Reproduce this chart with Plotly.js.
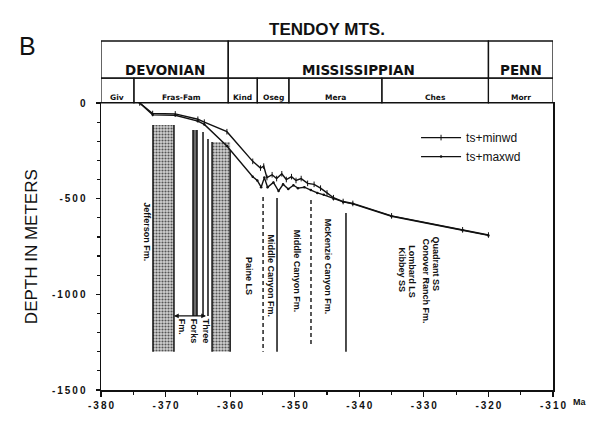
<!DOCTYPE html>
<html><head><meta charset="utf-8">
<script src="https://cdn.plot.ly/plotly-3.0.1.min.js"></script>
<style>body{margin:0;background:#fff}#c{width:595px;height:421px}</style>
</head><body><div id="c"></div>
<script>
// Subsidence curves (age in Ma, depth in m)
const ageMin   = [-374,-372,-368.5,-365,-364,-360.5,-356.5,-355.3,-354.8,-354.3,-353.5,-352.8,-352,-351.3,-350.5,-349.8,-349,-348,-347,-346,-345,-344,-342.5,-341,-335,-324,-320];
const depthMin = [0,-55,-57,-85,-100,-150,-305,-340,-330,-390,-375,-395,-370,-400,-385,-405,-395,-420,-425,-445,-470,-495,-515,-525,-590,-663,-690];
const ageMax   = [-374,-372,-368.5,-365,-364,-360.5,-356.5,-355.8,-355.2,-354.7,-354.2,-353.3,-352.5,-351.8,-351,-350.2,-349.5,-348.5,-347.5,-346.5,-345.5,-344,-342.5,-341,-335,-324,-320];
const depthMax = [0,-62,-64,-95,-112,-225,-385,-405,-440,-390,-440,-415,-460,-425,-450,-430,-445,-440,-455,-470,-480,-500,-517,-527,-592,-665,-692];
const seriesNames = ['ts+minwd','ts+maxwd'];

// Stippled formation columns
const zoneLeft   = [-371.95,-362.8];
const zoneRight  = [-368.7,-360.0];
const zoneTop    = [-115,-204];
const zoneBottom = [-1300,-1300];
// dark band
const bandLeft = [-365.75], bandRight = [-365.13], bandTop = [-141], bandBottom = [-1113];

// Formation boundary lines
const lineAge    = [-371.95,-368.7,-365.75,-365.13,-364.2,-363.43,-362.8,-360.0,-354.9,-352.74,-347.48,-342.06];
const lineTop    = [-115,-115,-141,-141,-152,-188,-204,-246,-491,-497,-507,-575];
const lineBottom = [-1300,-1300,-1113,-1113,-1113,-1113,-1300,-1300,-1300,-1300,-1275,-1300];
const lineDashed = [false,false,false,false,false,false,false,false,true,false,true,false];

// Formation labels
const labelText = ['Jefferson Fm.','Three<br>Forks<br>Fm.','Paine LS','Middle Canyon Fm.','Middle Canyon Fm.','McKenzie Canyon Fm.','Kibbey SS','Lombard LS','Conover Ranch Fm.','Quadrant SS'];
const labelAge  = [-372.9,-365.6,-357.1,-353.67,-349.65,-344.8,-333.4,-331.8,-329.67,-327.97];
const labelTop  = [-510,-1120,-794,-674,-655,-596,-747,-732,-700,-690];

// Three Forks arrow
const arrowAge = [-368.7,-363.5], arrowDepth = -1113;

// Chronostratigraphy
const periodBounds = [-380,-360.3,-320,-310];
const periodNames  = ['DEVONIAN','MISSISSIPPIAN','PENN'];
const epochBounds  = [-380,-374.9,-360.3,-355.8,-350.9,-336.5,-320,-310];
const epochNames   = ['Giv','Fras-Fam','Kind','Oseg','Mera','Ches','Morr'];

// Axis ticks
const xTickVals = [-380,-370,-360,-350,-340,-330,-320,-310];
const yTickVals = [0,-500,-1000,-1500];
const sp = s => '<b>' + String(s).split('').join('\u2009') + '</b>';

const FONT = 'Liberation Sans, Arial, sans-serif';
const traces = [];

// stipple zones
traces.push({type:'bar', x: zoneLeft.map((l,i)=>(l+zoneRight[i])/2), width: zoneLeft.map((l,i)=>zoneRight[i]-l),
  base: zoneBottom, y: zoneTop.map((t,i)=>t-zoneBottom[i]), showlegend:false, hoverinfo:'skip',
  marker:{color:'#cfcfcf', line:{width:0}, pattern:{shape:'.', fgcolor:'#555', bgcolor:'#d0d0d0', size:3, solidity:0.4}}});
traces.push({type:'bar', x: bandLeft.map((l,i)=>(l+bandRight[i])/2), width: bandLeft.map((l,i)=>bandRight[i]-l),
  base: bandBottom, y: bandTop.map((t,i)=>t-bandBottom[i]), showlegend:false, hoverinfo:'skip',
  marker:{color:'#6a6a6a', line:{width:0}}});

// formation lines
lineAge.forEach((a,i)=>{
  traces.push({type:'scatter', mode:'lines', x:[a,a], y:[lineTop[i],lineBottom[i]], showlegend:false, hoverinfo:'skip',
    line:{color:'#111', width: lineDashed[i]?1.4:1.5, dash: lineDashed[i]?'4px,3px':'solid'}});
});

// curves
traces.push({type:'scatter', mode:'lines+markers', name:seriesNames[0], x:ageMin, y:depthMin,
  line:{color:'#111', width:1.4}, marker:{symbol:'line-ns-open', size:4, color:'#111', line:{width:1, color:'#111'}}});
traces.push({type:'scatter', mode:'lines+markers', name:seriesNames[1], x:ageMax, y:depthMax,
  line:{color:'#111', width:1.4}, marker:{symbol:'circle', size:2.5, color:'#111'}});

const shapes = [];
const annotations = [];
const P0 = 1.0, P1 = 1.087, P2 = 1.216;
for (let i=0;i<periodNames.length;i++){
  shapes.push({type:'rect', xref:'x', yref:'paper', x0:periodBounds[i], x1:periodBounds[i+1], y0:P1, y1:P2, line:{color:'#111', width:1.3}});
  annotations.push({xref:'x', yref:'paper', x:(periodBounds[i]+periodBounds[i+1])/2, y:(P1+P2)/2, text:'<b>'+periodNames[i]+'</b>',
    showarrow:false, font:{family:'DejaVu Sans, sans-serif', size:13.5, color:'#111'}});
}
for (let i=0;i<epochNames.length;i++){
  shapes.push({type:'rect', xref:'x', yref:'paper', x0:epochBounds[i], x1:epochBounds[i+1], y0:P0, y1:P1, line:{color:'#111', width:1.2}});
  annotations.push({xref:'x', yref:'paper', x:(epochBounds[i]+epochBounds[i+1])/2, y:(P0+P1)/2, text:'<b>'+epochNames[i]+'</b>',
    showarrow:false, font:{family:'DejaVu Sans, sans-serif', size:7.5, color:'#111'}});
}

labelText.forEach((t,i)=>{
  annotations.push({xref:'x', yref:'y', x:labelAge[i], y:labelTop[i], text:'<b>'+t+'</b>', textangle:90,
    xanchor:'center', yanchor:'top', align:'left', showarrow:false, font:{family:FONT, size:9, color:'#111'}});
});
annotations.push({xref:'x', yref:'y', axref:'x', ayref:'y', x:arrowAge[0], y:arrowDepth, ax:arrowAge[1], ay:arrowDepth,
  showarrow:true, arrowhead:2, arrowside:'end+start', arrowsize:0.8, arrowwidth:1.2, arrowcolor:'#111', text:''});

annotations.push({xref:'paper', yref:'paper', x:0.5, y:1.296, text:'<b>TENDOY MTS.</b>', showarrow:false,
  font:{family:FONT, size:17, color:'#111'}});
annotations.push({xref:'paper', yref:'paper', x:-0.186, y:1.256, text:'B', showarrow:false,
  font:{family:FONT, size:25, color:'#111'}});
annotations.push({xref:'paper', yref:'paper', x:1.04, y:-0.066, xanchor:'left', text:'<b>Ma</b>', showarrow:false,
  font:{family:FONT, size:9, color:'#111'}});
annotations.push({xref:'paper', yref:'paper', x:-0.128, y:0.5, xanchor:'right', text:'DEPTH IN METERS', textangle:-90, showarrow:false,
  font:{family:FONT, size:17, color:'#111'}});

const layout = {
  width:595, height:421, margin:{l:101, r:42, t:103, b:31},
  paper_bgcolor:'#fff', plot_bgcolor:'#fff', barmode:'overlay', hovermode:false,
  font:{family:FONT, color:'#111'},
  xaxis:{range:[-380,-310], tickmode:'array', tickvals:xTickVals, ticktext:xTickVals.map(sp),
    ticks:'outside', ticklen:5, tickwidth:1.2, tickcolor:'#111', showline:true, linecolor:'#111', linewidth:1.5, mirror:true,
    showgrid:false, zeroline:false, tickfont:{size:10, family:FONT},
    minor:{dtick:5, tick0:-380, ticks:'outside', ticklen:3, tickcolor:'#111', showgrid:false}},
  yaxis:{range:[-1500,0], tickmode:'array', tickvals:yTickVals, ticktext:yTickVals.map(sp),
    ticks:'outside', ticklen:4, tickwidth:1.2, tickcolor:'#111', showline:true, linecolor:'#111', linewidth:1.5, mirror:true,
    showgrid:false, zeroline:false, tickfont:{size:10, family:FONT}, ticklabelstandoff:8,
    minor:{dtick:100, tick0:0, ticks:'outside', ticklen:2.5, tickcolor:'#111', showgrid:false}},
  legend:{x:0.697, y:0.93, xanchor:'left', yanchor:'top', itemwidth:40, bgcolor:'rgba(0,0,0,0)', font:{size:12, family:FONT}},
  shapes:shapes, annotations:annotations
};
Plotly.newPlot('c', traces, layout, {displayModeBar:false, staticPlot:true});
</script></body></html>
